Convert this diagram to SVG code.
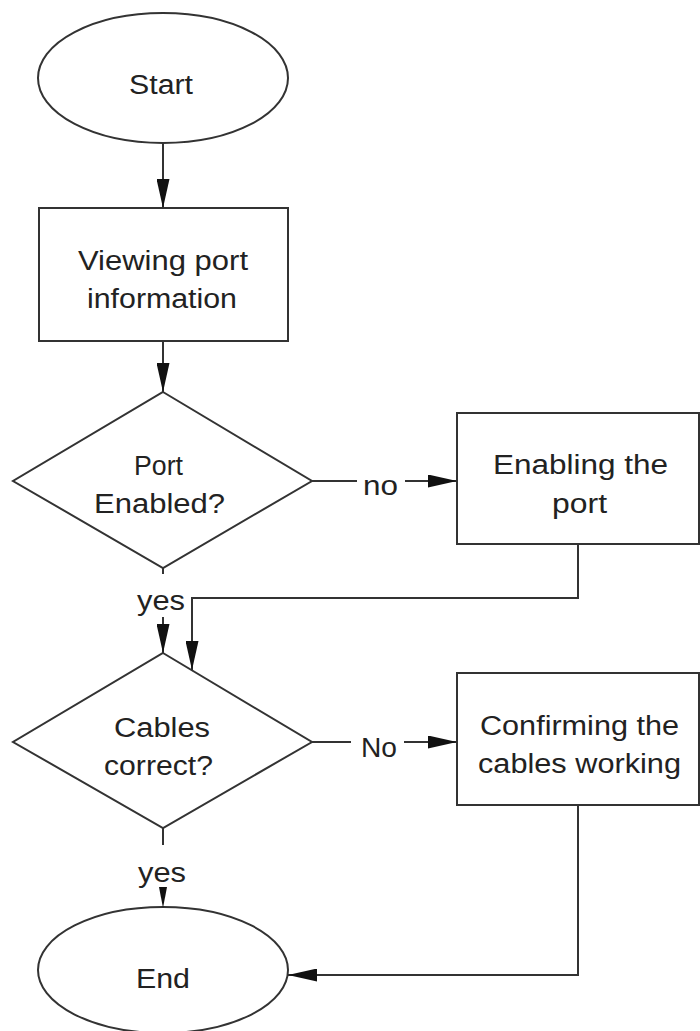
<svg xmlns="http://www.w3.org/2000/svg" width="700" height="1031" viewBox="0 0 700 1031">
<style>
.shape{fill:#fff;stroke:#333;stroke-width:2}
.conn{fill:none;stroke:#333;stroke-width:2}
text{font-family:"Liberation Sans",Arial,sans-serif;font-size:27px;fill:#222}
</style>
<defs>
<marker id="arr" viewBox="0 0 29 13" refX="29" refY="6.5" markerWidth="29" markerHeight="13" markerUnits="userSpaceOnUse" orient="auto">
<path d="M0,0 L29,6.5 L0,13 z" fill="#111"/>
</marker>
</defs>
<rect width="700" height="1031" fill="#fff"/>
<g id="start">
<ellipse class="shape" cx="163" cy="78" rx="125" ry="65"/>
<text x="129" y="94" textLength="64" lengthAdjust="spacingAndGlyphs">Start</text>
</g>
<g id="viewing">
<rect class="shape" x="39" y="208" width="249" height="133"/>
<text x="78" y="270" textLength="170" lengthAdjust="spacingAndGlyphs">Viewing port</text>
<text x="87" y="308" textLength="150" lengthAdjust="spacingAndGlyphs">information</text>
</g>
<g id="port-enabled">
<polygon class="shape" points="163,392 312,481 163,568 13,481"/>
<text x="134" y="475" textLength="49" lengthAdjust="spacingAndGlyphs">Port</text>
<text x="94" y="513" textLength="131" lengthAdjust="spacingAndGlyphs">Enabled?</text>
</g>
<g id="enabling">
<rect class="shape" x="457" y="413" width="242" height="131"/>
<text x="493" y="474" textLength="175" lengthAdjust="spacingAndGlyphs">Enabling the</text>
<text x="552" y="513" textLength="55" lengthAdjust="spacingAndGlyphs">port</text>
</g>
<g id="cables">
<polygon class="shape" points="163,653 312,742 163,828 13,742"/>
<text x="114" y="737" textLength="96" lengthAdjust="spacingAndGlyphs">Cables</text>
<text x="104" y="775" textLength="109" lengthAdjust="spacingAndGlyphs">correct?</text>
</g>
<g id="confirming">
<rect class="shape" x="457" y="673" width="242" height="132"/>
<text x="480" y="735" textLength="199" lengthAdjust="spacingAndGlyphs">Confirming the</text>
<text x="478" y="773" textLength="203" lengthAdjust="spacingAndGlyphs">cables working</text>
</g>
<g id="end">
<ellipse class="shape" cx="163" cy="970" rx="125" ry="63"/>
<text x="136" y="988" textLength="54" lengthAdjust="spacingAndGlyphs">End</text>
</g>
<g id="connectors">
<path class="conn" d="M163,143 V208" marker-end="url(#arr)"/>
<path class="conn" d="M163,341 V392" marker-end="url(#arr)"/>
<path class="conn" d="M312,481 H357"/>
<path class="conn" d="M405,481 H457" marker-end="url(#arr)"/>
<text x="363" y="495" textLength="35" lengthAdjust="spacingAndGlyphs">no</text>
<path class="conn" d="M163,568 V574"/>
<text x="137" y="610" textLength="48" lengthAdjust="spacingAndGlyphs">yes</text>
<path class="conn" d="M163,617 V653" marker-end="url(#arr)"/>
<path class="conn" d="M578,544 V598 H192 V670" marker-end="url(#arr)"/>
<path class="conn" d="M312,742 H351"/>
<path class="conn" d="M404,742 H457" marker-end="url(#arr)"/>
<text x="361" y="757" textLength="36" lengthAdjust="spacingAndGlyphs">No</text>
<path class="conn" d="M163,828 V845"/>
<text x="138" y="882" textLength="48" lengthAdjust="spacingAndGlyphs">yes</text>
<polygon points="159,887 167,887 163,908" fill="#111"/>
<path class="conn" d="M578,805 V975 H288" marker-end="url(#arr)"/>
</g>
</svg>
